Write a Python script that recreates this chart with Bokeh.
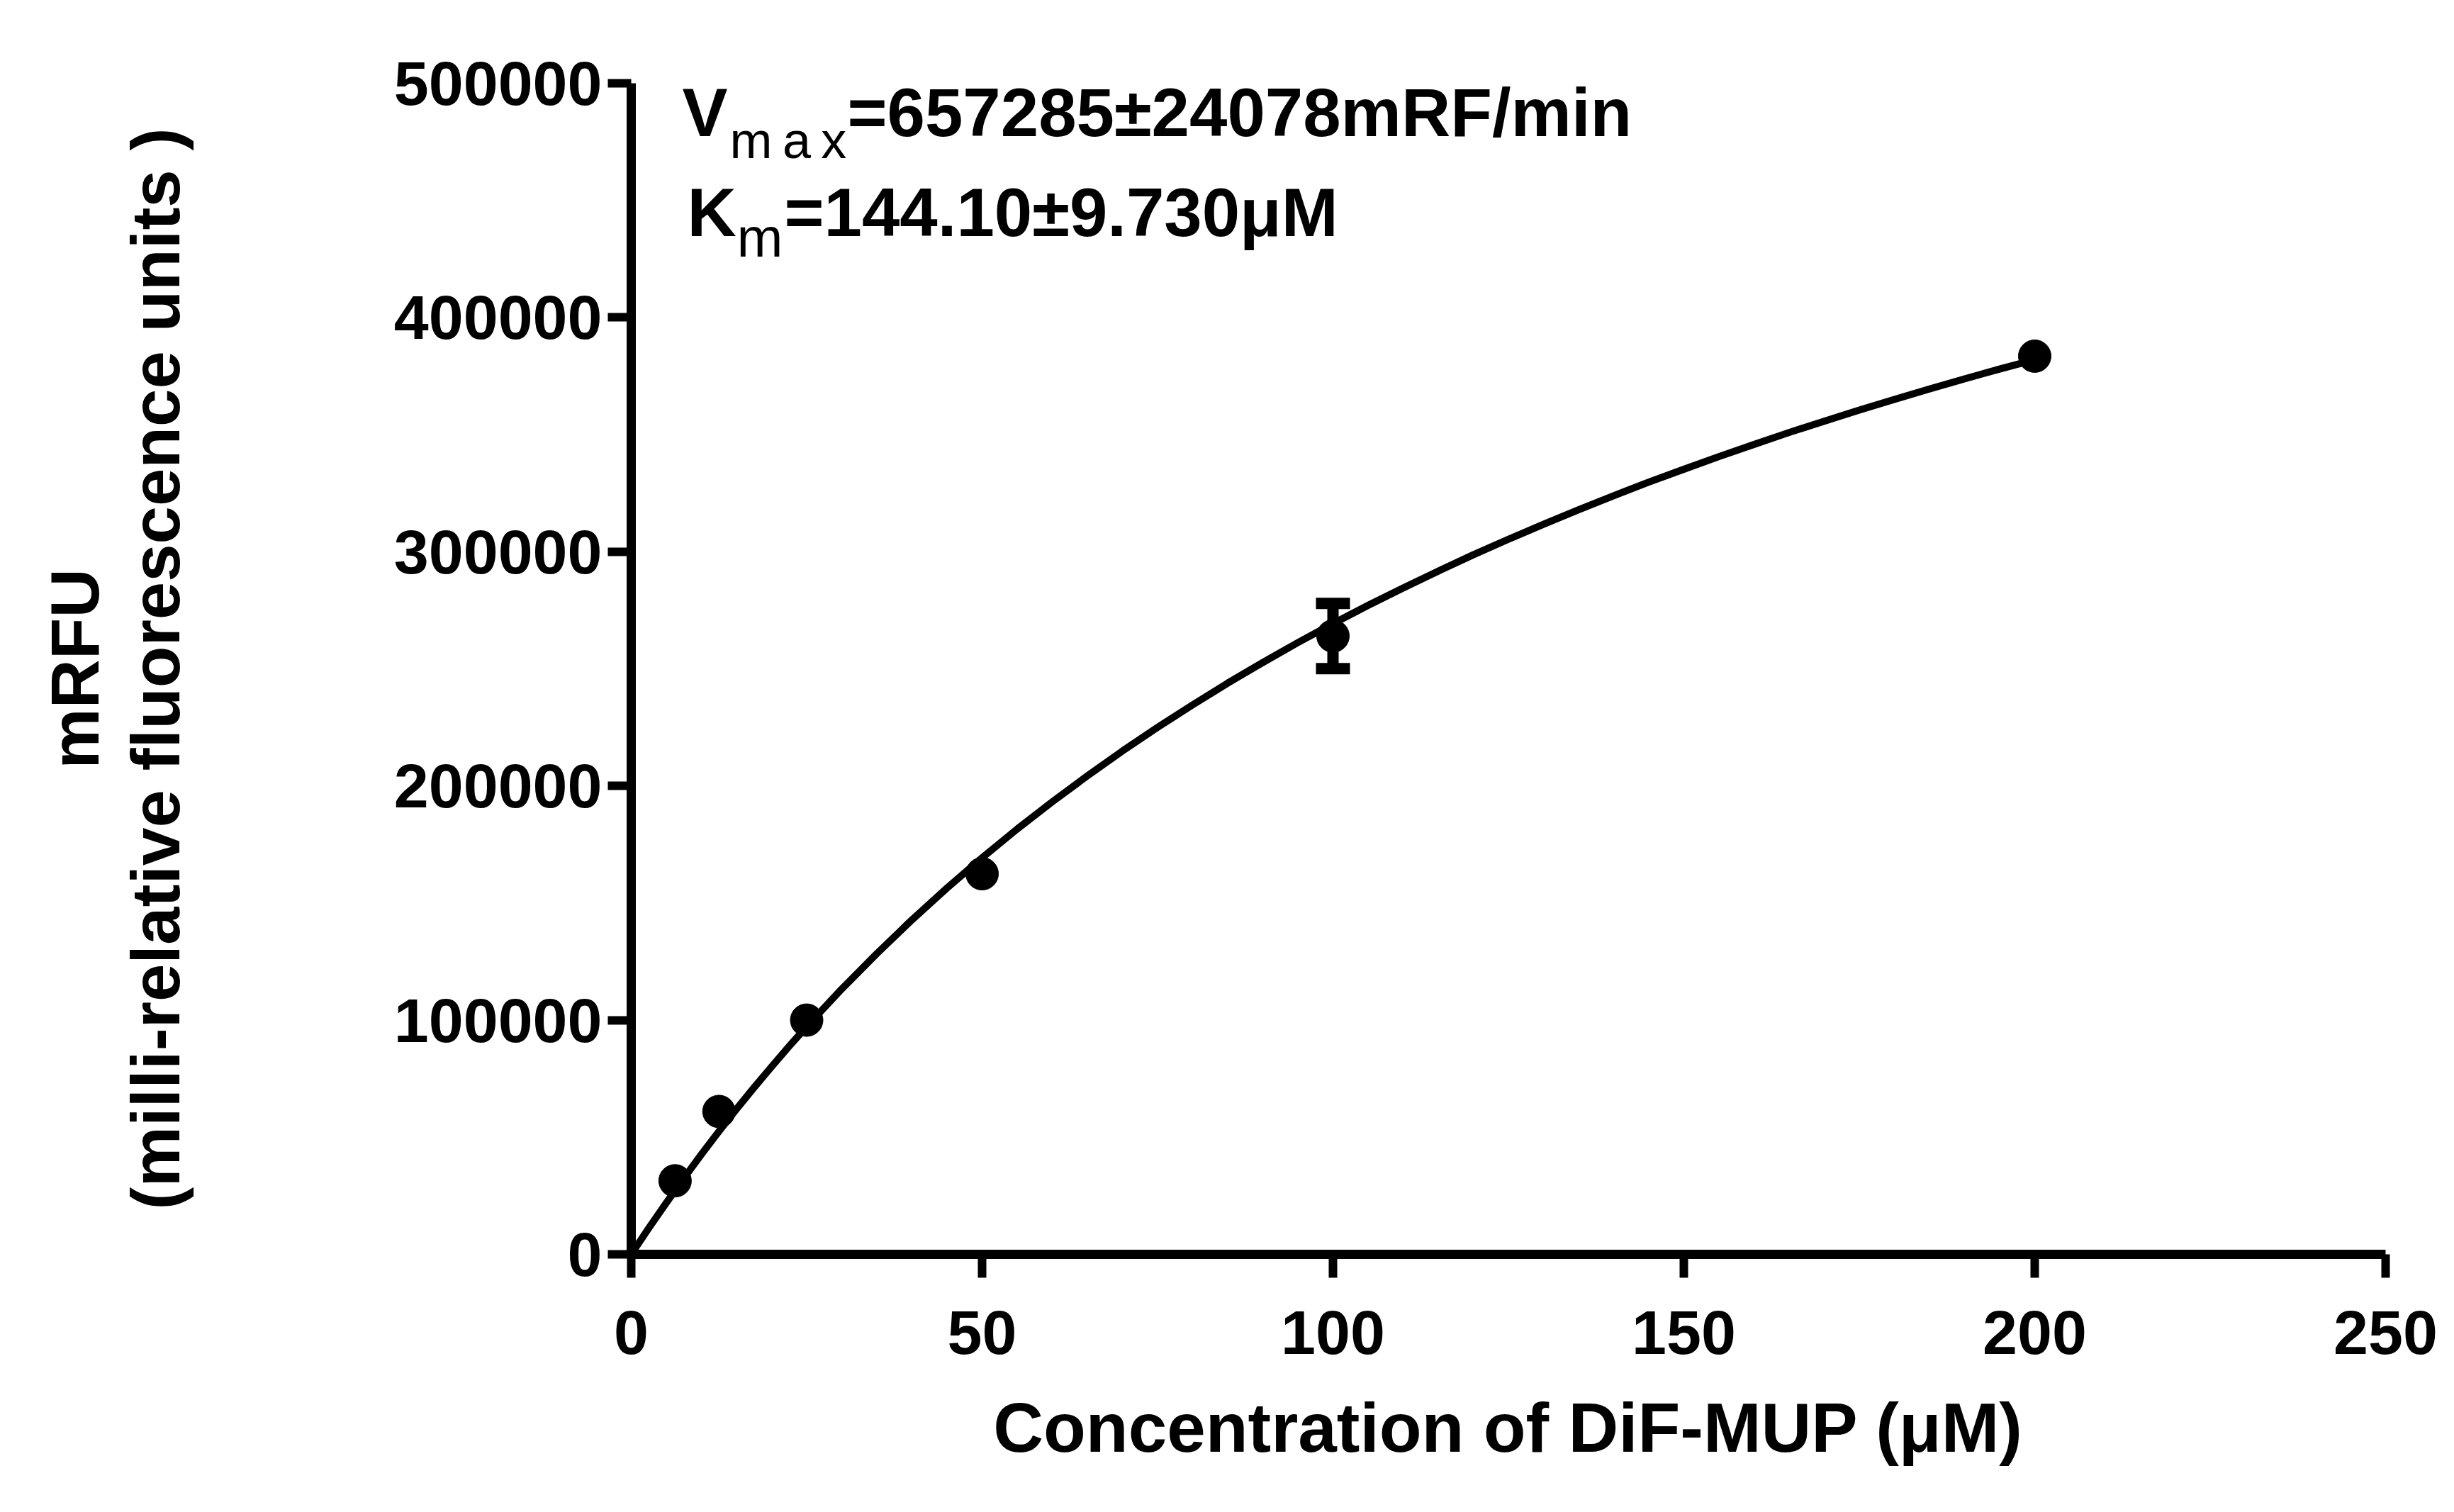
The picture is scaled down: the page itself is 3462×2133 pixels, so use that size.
from bokeh.plotting import figure
from bokeh.models import (Range1d, FixedTicker, Label, ColumnDataSource, Whisker,
                          TeeHead, BasicTickFormatter)
from bokeh.embed import file_html
from bokeh.resources import INLINE

# ---- data ----
conc = [6.25, 12.5, 25, 50, 100, 200]
mrfu = [31400, 61000, 100000, 162500, 264000, 383500]
err = [0, 0, 0, 0, 13900, 0]

fit_x = [0, 2.5, 5, 7.5, 10, 12.5, 15, 17.5, 20, 22.5, 25, 27.5, 30, 35, 40, 45,
         50, 55, 60, 65, 70, 75, 80, 85, 90, 95, 100, 105, 110, 115, 120, 125,
         130, 135, 140, 145, 150, 155, 160, 165, 170, 175, 180, 185, 190, 195, 200]
fit_y = [0, 11200, 22000, 32500, 42700, 52500, 62000, 71200, 80100, 88800,
         97200, 105300, 113300, 128400, 142800, 156400, 169300, 181600, 193200,
         204300, 214900, 225000, 234600, 243900, 252700, 261200, 269300, 277100,
         284500, 291700, 298700, 305300, 311700, 317900, 323900, 329700, 335200,
         340600, 345800, 350900, 355700, 360500, 365000, 369500, 373800, 378000,
         382000]

x_ticks = [0, 50, 100, 150, 200, 250]
y_ticks = [0, 100000, 200000, 300000, 400000, 500000]

x_title = "Concentration of DiF-MUP (\u03bcM)"
y_title = "mRFU\n(milli-relative fluorescence units )"

FONT = "Liberation Sans"

W, H = 3450, 2125
p = figure(width=W, height=H, output_backend="svg", toolbar_location=None,
           x_range=Range1d(0, 250), y_range=Range1d(0, 500000),
           min_border_left=890, min_border_right=W - 890 - 2475,
           min_border_top=117, min_border_bottom=H - 117 - 1652)
p.outline_line_color = None
p.grid.visible = False
p.background_fill_color = "white"
p.border_fill_color = "white"

for ax, ticks in ((p.xaxis[0], x_ticks), (p.yaxis[0], y_ticks)):
    ax.ticker = FixedTicker(ticks=ticks)
    ax.formatter = BasicTickFormatter(use_scientific=False)
    ax.minor_tick_line_color = None
    ax.axis_line_width = 13
    ax.axis_line_color = "black"
    ax.major_tick_line_width = 12
    ax.major_tick_line_color = "black"
    ax.major_tick_out = 33
    ax.major_tick_in = 0
    ax.major_label_text_font = FONT
    ax.major_label_text_font_style = "bold"
    ax.major_label_text_font_size = "88px"
    ax.major_label_text_color = "black"
    ax.axis_label_text_font = FONT
    ax.axis_label_text_font_style = "bold"
    ax.axis_label_text_color = "black"

p.xaxis.major_label_standoff = 46
p.yaxis.major_label_standoff = 8
p.xaxis.axis_label = x_title
p.xaxis.axis_label_text_font_size = "98px"
p.xaxis.axis_label_standoff = 46
p.yaxis.axis_label = y_title
p.yaxis.axis_label_text_font_size = "96px"
p.yaxis.axis_label_text_line_height = 1.06
p.yaxis.axis_label_standoff = 280

# fitted curve
p.line(fit_x, fit_y, line_width=10, line_color="black", line_join="round")

# error bars
ex = [c for c, e in zip(conc, err) if e > 0]
em = [m for m, e in zip(mrfu, err) if e > 0]
ee = [e for e in err if e > 0]
src = ColumnDataSource(dict(x=ex, lo=[m - e for m, e in zip(em, ee)],
                            hi=[m + e for m, e in zip(em, ee)]))
p.add_layout(Whisker(source=src, base="x", lower="lo", upper="hi",
                     line_width=16, line_color="black",
                     upper_head=TeeHead(size=48, line_width=16, line_color="black"),
                     lower_head=TeeHead(size=48, line_width=16, line_color="black")))

# data points
p.scatter(conc, mrfu, size=46, marker="circle", fill_color="black", line_color="black")

# annotation text
def lab(text, x, y, xo, size, bold=True):
    p.add_layout(Label(x=x, y=y, x_offset=xo, text=text, text_font=FONT,
                       text_font_size=size, text_color="black",
                       text_font_style="bold" if bold else "normal",
                       text_baseline="alphabetic", text_align="left"))

lab("V", 0, 487600, 72, "96px")
lab("m\u2009a\u2009x", 0, 475500, 139, "72px", bold=False)
lab("=657285\u00b124078mRF/min", 0, 487600, 305, "96px")
lab("K", 0, 444900, 79, "96px")
lab("m", 0, 434300, 149, "78px", bold=False)
lab("=144.10\u00b19.730\u03bcM", 0, 444900, 216, "96px")

open("out.html", "w").write(file_html(p, INLINE))
